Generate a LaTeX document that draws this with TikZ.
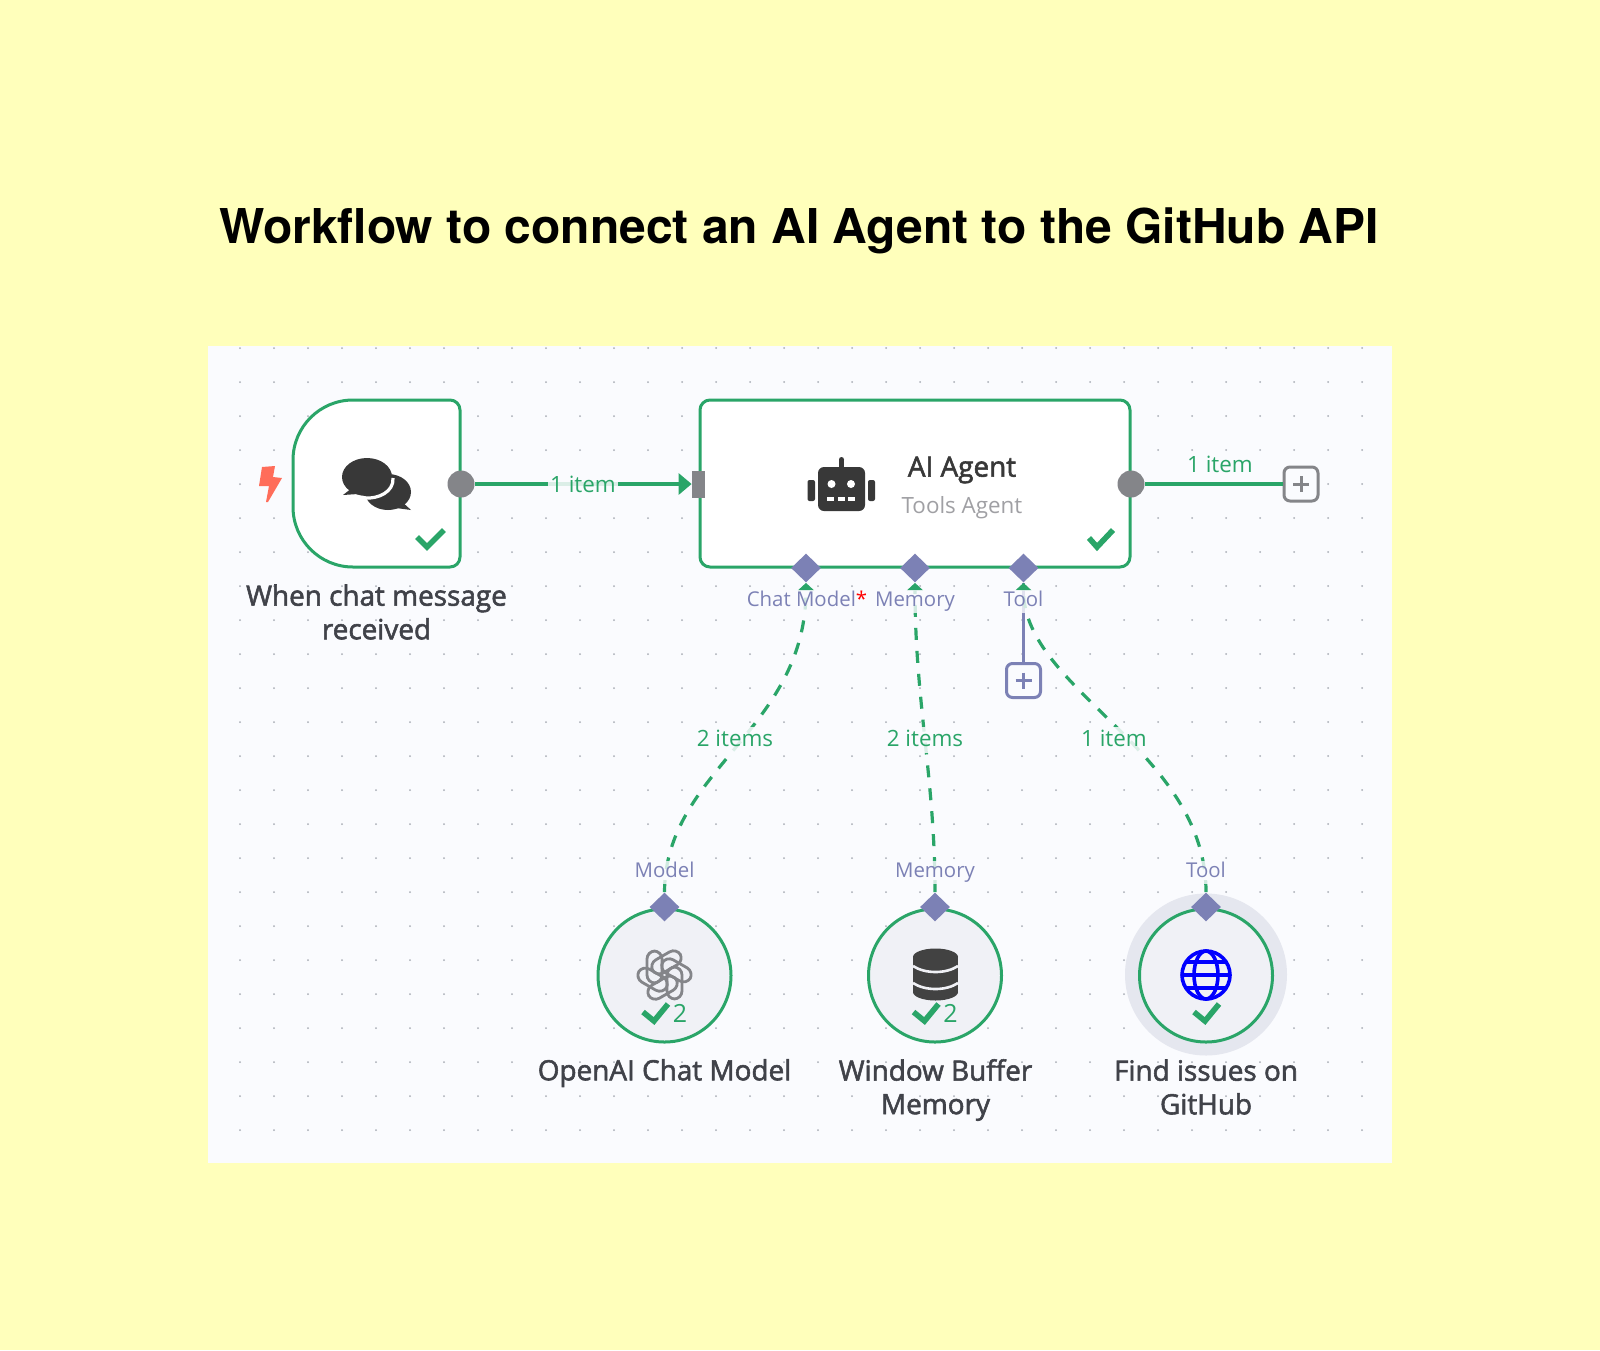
\documentclass[tikz,border=0pt]{standalone}
\usepackage{fontspec}
\setmainfont{Open Sans}
\newfontfamily\titlefont{TeX Gyre Heros}
\newfontfamily\semifont[FakeBold=2]{Open Sans}
\usetikzlibrary{arrows.meta,shapes.geometric}
\definecolor{pagebg}{HTML}{FFFFBB}
\definecolor{panelbg}{HTML}{FAFBFE}
\definecolor{griddot}{HTML}{A8ACB5}
\definecolor{okgreen}{HTML}{2AA568}
\definecolor{portgray}{HTML}{848589}
\definecolor{portblue}{HTML}{7C81B5}
\definecolor{icondark}{HTML}{383838}
\definecolor{nametext}{HTML}{404249}
\definecolor{subtext}{HTML}{A0A0A4}
\definecolor{subbg}{HTML}{F0F1F6}
\definecolor{halobg}{HTML}{E5E7EF}
\definecolor{boltred}{HTML}{FF6D5A}
\tikzset{
    nodeline/.style={draw=okgreen,line width=1.5pt,fill=white},
    okcheck/.style={draw=okgreen,line width=2.8pt},
    outdot/.style={circle,fill=portgray,inner sep=0pt,minimum size=13.5pt},
    inport/.style={rectangle,fill=portgray,inner sep=0pt,minimum width=6.5pt,minimum height=13.5pt},
    subport/.style={diamond,fill=portblue,inner sep=0pt,minimum width=15pt,minimum height=14.5pt},
    subnode/.style={circle,draw=okgreen,line width=1.5pt,fill=subbg,inner sep=0pt,minimum size=66.5pt},
    plusbox/.style={rectangle,rounded corners=3pt,line width=1.5pt,fill=panelbg,inner sep=0pt,minimum size=17pt},
    mainlink/.style={draw=okgreen,line width=1.7pt},
    sublink/.style={draw=okgreen,line width=1.6pt,dash pattern=on 6pt off 5.5pt,-{Triangle[length=3.8pt,width=8pt]}},
    itemtext/.style={text=okgreen,font=\fontsize{11.2}{13}\selectfont,fill=panelbg,fill opacity=0.85,text opacity=1,inner sep=1pt,text height=8.5pt,text depth=2.5pt},
    porttext/.style={text=portblue,font=\fontsize{10.2}{12}\selectfont,fill=panelbg,fill opacity=0.8,text opacity=1,inner sep=0.5pt,text height=8pt,text depth=2.5pt},
    nametag/.style={text=nametext,font=\semifont\fontsize{13.95}{16.8}\selectfont,align=center,inner sep=0pt}
}
\begin{document}
\begin{tikzpicture}[x=0.5pt,y=-0.5pt]
    \fill[pagebg] (0,0) rectangle (1600,1350);
    \fill[panelbg] (208,346) rectangle (1392,1163);
    \foreach \i in {0,...,33}{
        \foreach \j in {0,...,23}{
            \fill[griddot] (240+34*\i,348+34*\j) circle (0.5pt);
        }
    }
    \node[font=\titlefont\bfseries\fontsize{24}{30}\selectfont,inner sep=0pt] (title) at (799,231) {Workflow to connect an AI Agent to the GitHub API};

    % trigger box
    \draw[nodeline] (400,567) [rounded corners=30pt] -- (293,567) -- (293,400) [rounded corners=5pt] -- (460,400) -- (460,567) -- cycle;
    \fill[boltred] (262,467)--(275,466)--(273,477)--(282,478)--(268,502)--(266,502)--(269,486)--(259,486)--cycle;
    \fill[icondark] (388,492) ellipse (23 and 18);
    \fill[icondark] (400,500)--(411,510)--(396,508)--cycle;
    \fill[icondark] (367,477) ellipse (25 and 19);
    \draw[white,line width=1.6pt] (393,478) .. controls (394,492) and (378,499) .. (365,498);
    \fill[icondark] (352,488)--(343,495)--(358,494)--cycle;
    \draw[okcheck] (417,537)--(427,547)--(444,530);
    \node[nametag] (trigname) at (376.5,612) {When chat message\\received};

    % agent box
    \draw[nodeline,rounded corners=5pt] (700,400) rectangle (1130,567);
    \fill[icondark,rounded corners=3pt] (818,467) rectangle (865,511);
    \fill[icondark] (839,459.5) rectangle (844,468);
    \fill[icondark] (841.5,459.5) circle (2.5);
    \fill[icondark,rounded corners=1pt] (807.5,480) rectangle (815,501);
    \fill[icondark,rounded corners=1pt] (868,480) rectangle (875,501);
    \foreach \i in {831.5,851}{
        \fill[white] (\i,484) circle (4);
    }
    \foreach \i in {827,838,848}{
        \fill[white] (\i,497) rectangle (\i+7,501);
    }
    \node[text=icondark,font=\semifont\fontsize{13.95}{16}\selectfont,inner sep=0pt] (agentname) at (962,470) {AI Agent};
    \node[text=subtext,font=\fontsize{11.2}{13}\selectfont,inner sep=0pt] (agentsub) at (962,508) {Tools Agent};
    \draw[okcheck] (1089,538)--(1097,547)--(1113,530);

    % ports
    \node[outdot] (trigout) at (461,484) {};
    \node[inport] (agentin) at (698.5,484) {};
    \node[outdot] (agentout) at (1131,484) {};
    \node[plusbox,draw=portgray] (agentplus) at (1301,484) {};
    \draw[portgray,line width=1.5pt] (1301,476)--(1301,492) (1293,484)--(1309,484);
    \node[subport] (pchat) at (806,568) {};
    \node[subport] (pmem) at (915,568) {};
    \node[subport] (ptool) at (1023.5,568) {};
    \node[plusbox,draw=portblue] (toolplus) at (1023.5,680.5) {};
    \draw[portblue,line width=1.5pt] (1023.5,672.5)--(1023.5,688.5) (1015.5,680.5)--(1031.5,680.5);

    % sub nodes
    \node[circle,fill=halobg,inner sep=0pt,minimum size=81pt] (halo) at (1206,974.5) {};
    \node[subnode] (cmodel) at (664.5,975.5) {};
    \node[subnode] (cmem) at (935,975.5) {};
    \node[subnode] (cgit) at (1206,975.5) {};
    \node[subport] (pmodel) at (664.5,907) {};
    \node[subport] (pbuffer) at (935,907) {};
    \node[subport] (pgit) at (1206,907) {};

    % connectors
    \draw[mainlink,-{Triangle[length=6.5pt,width=10.5pt]}] (trigout) -- (agentin);
    \draw[mainlink] (agentout) -- (agentplus);
    \draw[portblue,line width=1.5pt] (ptool) -- (toolplus);
    \draw[sublink] (pmodel.north) .. controls (665,770) and (806,730) .. (pchat.south);
    \draw[sublink] (pbuffer.north) .. controls (935,780) and (915,700) .. (pmem.south);
    \draw[sublink] (pgit.north) .. controls (1206,750) and (1023,690) .. (ptool.south);

    % labels
    \node[itemtext] (l1) at (583,486) {1 item};
    \node[text=okgreen,font=\fontsize{11.2}{13}\selectfont,inner sep=0pt] (l2) at (1220,464) {1 item};
    \node[itemtext] (l3) at (735,740) {2 items};
    \node[itemtext] (l4) at (925,740) {2 items};
    \node[itemtext] (l5) at (1114,740) {1 item};
    \node[porttext] (tchat) at (807,601) {Chat Model\textcolor{red}{*}};
    \node[porttext] (tmem) at (915,601) {Memory};
    \node[porttext] (ttool) at (1023.5,601) {Tool};
    \node[porttext] (tmodel) at (664.5,872) {Model};
    \node[porttext] (tbuffer) at (935,872) {Memory};
    \node[porttext] (tgit) at (1206,872) {Tool};

    % openai icon
    \foreach \a in {0,60,...,300}{
        \draw[portgray,line width=1.4pt,rounded corners=4pt,rotate around={\a:(664.5,975)}] (647,951) rectangle (662,983);
    }
    \draw[okcheck] (643,1012)--(654,1021)--(668,1004);
    \node[text=okgreen,font=\fontsize{12.5}{14}\selectfont,inner sep=0pt] (n1) at (680,1013) {2};
    \node[nametag] (mname) at (664.5,1073) {OpenAI Chat Model};

    % database icon
    \fill[icondark!95!white] (913,957) rectangle (958,992);
    \fill[icondark!95!white] (935.5,957) ellipse (22.5 and 8.5);
    \fill[icondark!95!white] (935.5,992) ellipse (22.5 and 8.5);
    \draw[subbg,line width=1.3pt] (913,966) .. controls (925,974) and (946,974) .. (958,966);
    \draw[subbg,line width=1.3pt] (913,983) .. controls (925,991) and (946,991) .. (958,983);
    \draw[okcheck] (913.5,1012)--(924.5,1021)--(938.5,1004);
    \node[text=okgreen,font=\fontsize{12.5}{14}\selectfont,inner sep=0pt] (n2) at (950.5,1013) {2};
    \node[nametag] (bname) at (935.5,1090) {Window Buffer\\Memory};

    % globe icon
    \draw[blue,line width=1.8pt] (1206,975) circle (24);
    \draw[blue,line width=1.8pt] (1206,975) ellipse (12 and 24);
    \draw[blue,line width=1.8pt] (1182,975)--(1230,975);
    \draw[blue,line width=1.6pt] (1186,962)--(1226,962) (1186,988)--(1226,988);
    \draw[okcheck] (1194,1012)--(1205,1021)--(1219,1004);
    \node[nametag] (gname) at (1206,1087) {Find issues on\\GitHub};
\end{tikzpicture}
\end{document}
